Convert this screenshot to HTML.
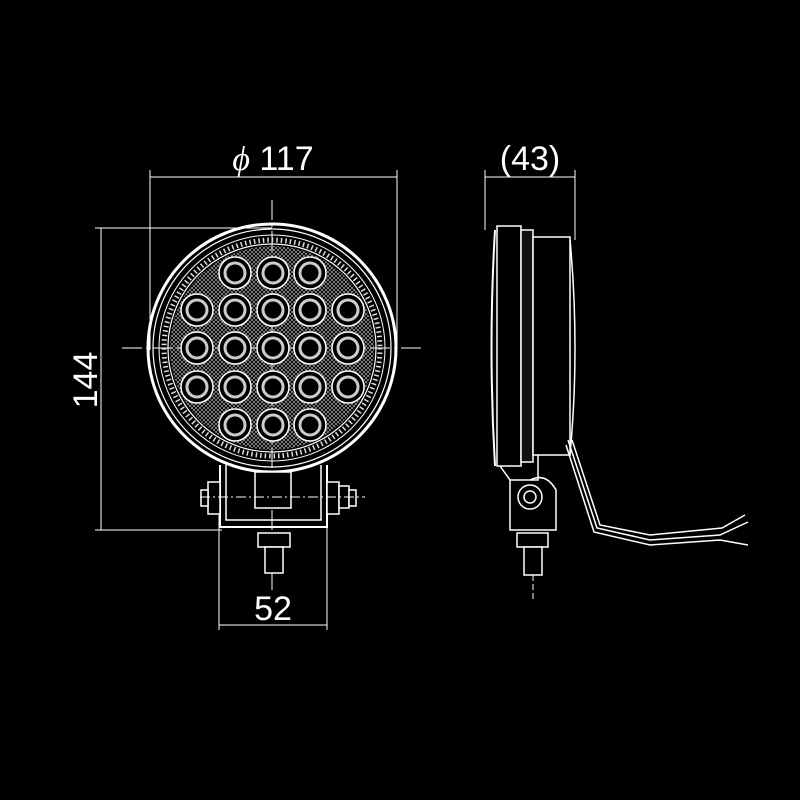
<!DOCTYPE html>
<html><head><style>html,body{margin:0;padding:0;background:#000;}svg{display:block}</style></head>
<body>
<svg width="800" height="800" viewBox="0 0 800 800" xmlns="http://www.w3.org/2000/svg">
<rect width="800" height="800" fill="#000"/>
<defs>
<pattern id="hatch" width="4" height="4" patternUnits="userSpaceOnUse">
<path d="M0 0L4 4M4 0L0 4" stroke="#bbb" stroke-width="0.6"/>
</pattern>
</defs>
<g stroke="#fff" fill="none" stroke-width="1">
<!-- dimension lines front -->
<line x1="150" y1="170" x2="150" y2="350"/>
<line x1="397" y1="170" x2="397" y2="350"/>
<line x1="150" y1="177" x2="397" y2="177"/>
<line x1="95" y1="228" x2="272" y2="228"/>
<line x1="95" y1="530" x2="222" y2="530"/>
<line x1="101" y1="228" x2="101" y2="530"/>
<line x1="219" y1="495" x2="219" y2="630"/>
<line x1="327" y1="495" x2="327" y2="630"/>
<line x1="219" y1="625" x2="327" y2="625"/>
<!-- centerlines -->
<line x1="272" y1="200" x2="272" y2="590" stroke-dasharray="20,4,3,4"/>
<line x1="122" y1="348" x2="425" y2="348" stroke-dasharray="20,4,3,4"/>
<!-- lamp -->
<circle cx="272" cy="348" r="124" stroke-width="3"/>
<circle cx="272" cy="348" r="119" stroke-width="1.2"/>
<circle cx="272" cy="348" r="113" stroke-width="1"/>
<circle cx="272" cy="348" r="104" stroke-width="1.2"/>
<circle cx="272" cy="348" r="108" stroke-width="5" stroke-dasharray="1.5,3" stroke="#ddd"/>
<circle cx="272" cy="348" r="102" fill="url(#hatch)" stroke="none"/>
</g>
<g stroke="#fff" stroke-width="1.2">
<g id="leds">
</g>
</g>
<g fill="#000" stroke="#fff" stroke-width="1.5">
<!-- row 1 -->
<circle cx="235" cy="273" r="16"/><circle cx="273" cy="273" r="16"/><circle cx="310" cy="273" r="16"/>
<circle cx="197" cy="310" r="16"/><circle cx="235" cy="310" r="16"/><circle cx="273" cy="310" r="16"/><circle cx="310" cy="310" r="16"/><circle cx="348" cy="310" r="16"/>
<circle cx="197" cy="348" r="16"/><circle cx="235" cy="348" r="16"/><circle cx="273" cy="348" r="16"/><circle cx="310" cy="348" r="16"/><circle cx="348" cy="348" r="16"/>
<circle cx="197" cy="387" r="16"/><circle cx="235" cy="387" r="16"/><circle cx="273" cy="387" r="16"/><circle cx="310" cy="387" r="16"/><circle cx="348" cy="387" r="16"/>
<circle cx="235" cy="425" r="16"/><circle cx="273" cy="425" r="16"/><circle cx="310" cy="425" r="16"/>
</g>
<g fill="none" stroke="#ccc" stroke-width="3">
<circle cx="235" cy="273" r="10"/><circle cx="273" cy="273" r="10"/><circle cx="310" cy="273" r="10"/>
<circle cx="197" cy="310" r="10"/><circle cx="235" cy="310" r="10"/><circle cx="273" cy="310" r="10"/><circle cx="310" cy="310" r="10"/><circle cx="348" cy="310" r="10"/>
<circle cx="197" cy="348" r="10"/><circle cx="235" cy="348" r="10"/><circle cx="273" cy="348" r="10"/><circle cx="310" cy="348" r="10"/><circle cx="348" cy="348" r="10"/>
<circle cx="197" cy="387" r="10"/><circle cx="235" cy="387" r="10"/><circle cx="273" cy="387" r="10"/><circle cx="310" cy="387" r="10"/><circle cx="348" cy="387" r="10"/>
<circle cx="235" cy="425" r="10"/><circle cx="273" cy="425" r="10"/><circle cx="310" cy="425" r="10"/>
</g>
<g stroke="#fff" fill="#000" stroke-width="1.5">
<!-- bracket front -->
<path d="M220 465 L220 527 L327 527 L327 465" fill="none" stroke-width="2"/>
<path d="M226 465 L226 520 L321 520 L321 465" fill="none"/>
<rect x="255" y="472" width="36" height="36"/>
<rect x="208" y="482" width="12" height="32"/>
<rect x="201" y="490" width="7" height="16"/>
<rect x="327" y="482" width="12" height="32"/>
<rect x="339" y="486" width="10" height="22"/>
<rect x="349" y="490" width="7" height="16"/>
<line x1="200" y1="497" x2="365" y2="497" stroke-dasharray="10,3,2,3" stroke-width="1"/>
<rect x="258" y="533" width="32" height="14"/>
<rect x="265" y="547" width="18" height="26"/>
<!-- side view -->
<path d="M495 230 Q488 348 495 466" fill="none" stroke-width="2"/>
<rect x="497" y="226" width="24" height="240"/>
<rect x="521" y="230" width="12" height="232" fill="#111"/>
<rect x="533" y="237" width="37" height="218"/>
<path d="M570 240 Q580 348 570 455" fill="none"/>
<path d="M500 466 L510 480 L538 480 L538 455" fill="none"/>
<path d="M510 480 L510 530 L556 530 L556 490 Q546 472 530 480" fill="none"/>
<circle cx="530" cy="497" r="12"/>
<circle cx="530" cy="497" r="6"/>
<rect x="517" y="533" width="31" height="14"/>
<rect x="524" y="547" width="18" height="28"/>
<line x1="533" y1="575" x2="533" y2="600" stroke-width="1" stroke-dasharray="6,3"/>
<!-- wires -->
<polyline points="568,440 597,528 650,540 720,535 748,522" fill="none"/>
<polyline points="572,440 600,525 650,535 722,528 745,515" fill="none"/>
<polyline points="566,445 594,532 650,545 720,540 748,545" fill="none"/>
<line x1="485" y1="170" x2="485" y2="230" stroke-width="1"/>
<line x1="575" y1="170" x2="575" y2="240" stroke-width="1"/>
<line x1="485" y1="177" x2="575" y2="177" stroke-width="1"/>
</g>
<g fill="#fff" font-family="Liberation Sans, sans-serif" font-size="34">
<text x="273" y="170" text-anchor="middle"><tspan font-style="italic" font-family="Liberation Serif, serif">ϕ</tspan> 117</text>
<text x="530" y="170" text-anchor="middle">(43)</text>
<text x="273" y="620" text-anchor="middle">52</text>
<text transform="translate(97,380) rotate(-90)" text-anchor="middle">144</text>
</g>
</svg>
</body></html>
